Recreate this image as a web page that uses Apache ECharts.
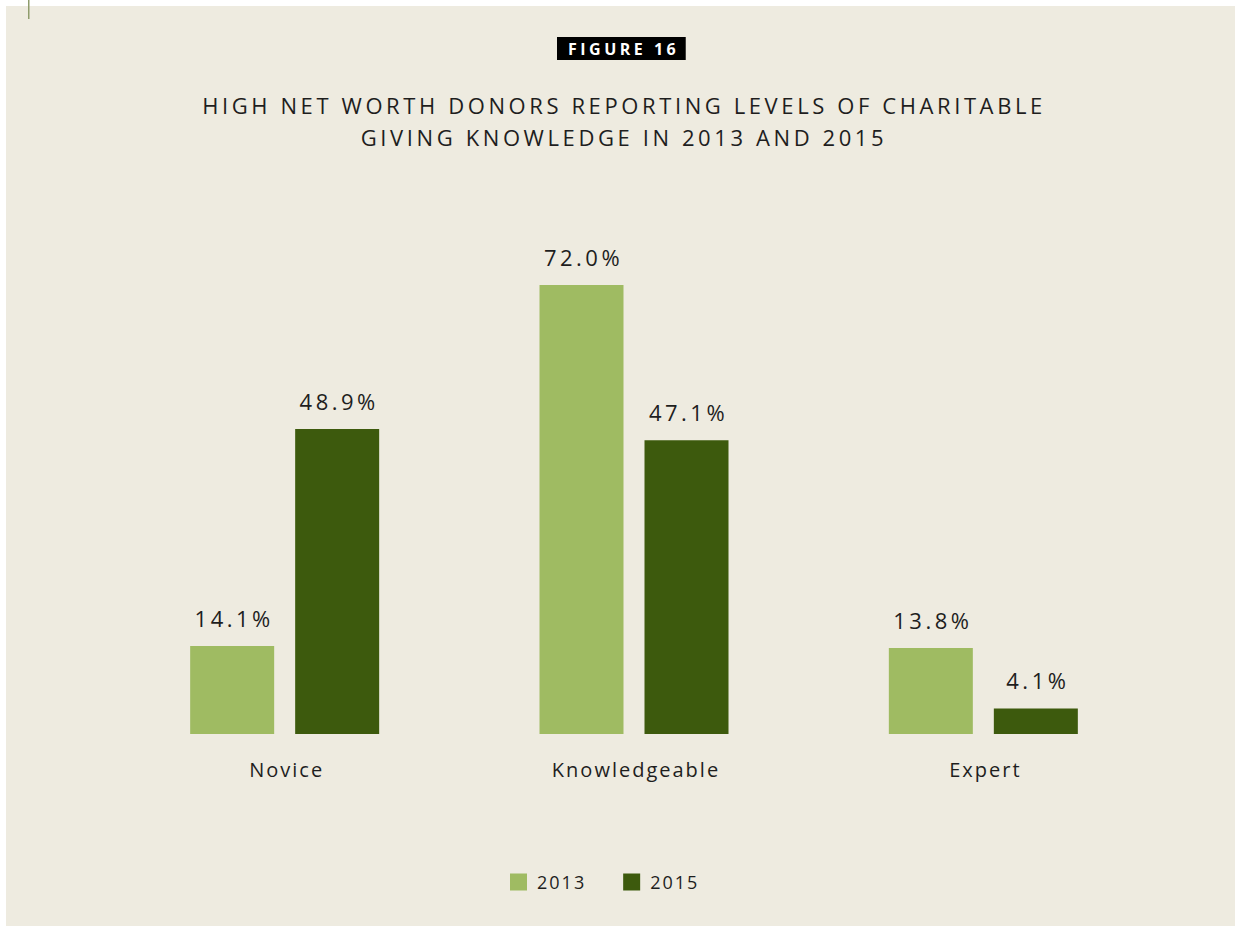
<!DOCTYPE html>
<html>
<head>
<meta charset="utf-8">
<script src="https://cdn.jsdelivr.net/npm/echarts@6/dist/echarts.min.js"></script>
<style>
html,body{margin:0;padding:0;background:#fff;}
#chart{width:1235px;height:926px;}
#chart text{letter-spacing:2px;}
</style>
</head>
<body>
<div id="chart"></div>
<script>
const categories = ['Novice', 'Knowledgeable', 'Expert'];
const seriesNames = ['2013', '2015'];
const values2013 = [14.1, 72.0, 13.8];
const values2015 = [48.9, 47.1, 4.1];
const figureLabel = 'FIGURE 16';
const titleText = 'HIGH NET WORTH DONORS REPORTING LEVELS OF CHARITABLE\nGIVING KNOWLEDGE IN 2013 AND 2015';

const FONT = '"Open Sans", "Noto Sans", sans-serif';
const chart = echarts.init(document.getElementById('chart'), null, {renderer: 'svg'});
const labelCfg = {
  show: true, position: 'top', distance: 17, offset: [2, 0],
  formatter: p => p.value.toFixed(1) + '%',
  color: '#1e1e1e', fontSize: 22, fontFamily: FONT
};
chart.setOption({
  backgroundColor: '#ffffff',
  animation: false,
  graphic: [
    {type: 'rect', z: -10, silent: true, shape: {x: 6, y: 6, width: 1229, height: 920}, style: {fill: '#eeebe0'}},
    {type: 'rect', z: 10, silent: true, shape: {x: 28, y: 0, width: 1.5, height: 19}, style: {fill: '#8f9c6c'}},
    {type: 'text', z: 10, silent: true, x: 624, y: 121,
     style: {text: titleText, align: 'center', verticalAlign: 'middle', fill: '#1e1e1e',
             fontSize: 22, fontFamily: FONT, lineHeight: 32}}
  ],
  title: [
    {text: figureLabel, left: 557, top: 37, padding: [3, 38, 2, 11], backgroundColor: '#000',
     textStyle: {color: '#fff', fontSize: 16, fontWeight: 'bold', fontFamily: FONT, lineHeight: 18}}
  ],
  legend: {
    bottom: 30, left: 505, itemWidth: 17, itemHeight: 17, itemGap: 45,
    icon: 'rect',
    textStyle: {color: '#1e1e1e', fontSize: 18, fontFamily: FONT, padding: [0, 0, 0, 5]},
    data: seriesNames
  },
  grid: {left: 110, right: 77, top: 235, bottom: 192},
  xAxis: {
    type: 'category', data: categories,
    axisLine: {show: false}, axisTick: {show: false},
    axisLabel: {color: '#1e1e1e', fontSize: 20, fontFamily: FONT, margin: 25, padding: [0, 0, 0, 4]}
  },
  yAxis: {type: 'value', min: 0, max: 80, show: false, splitLine: {show: false}},
  series: [
    {name: seriesNames[0], type: 'bar', data: values2013, barWidth: 84, barGap: '25%',
     itemStyle: {color: '#9fbb62'}, label: labelCfg},
    {name: seriesNames[1], type: 'bar', data: values2015, barWidth: 84,
     itemStyle: {color: '#3d5a0d'}, label: labelCfg}
  ]
});
document.querySelectorAll('#chart text').forEach(t => {
  const s = t.textContent;
  if (s.indexOf('FIGURE') === 0) {
    t.style.letterSpacing = '3.5px';
  } else if (s.indexOf('HIGH') === 0 || s.indexOf('GIVING') === 0) {
    t.style.letterSpacing = '3.6px';
  } else if (/%$/.test(s)) {
    t.style.letterSpacing = '3.5px';
  }
});
</script>
</body>
</html>
